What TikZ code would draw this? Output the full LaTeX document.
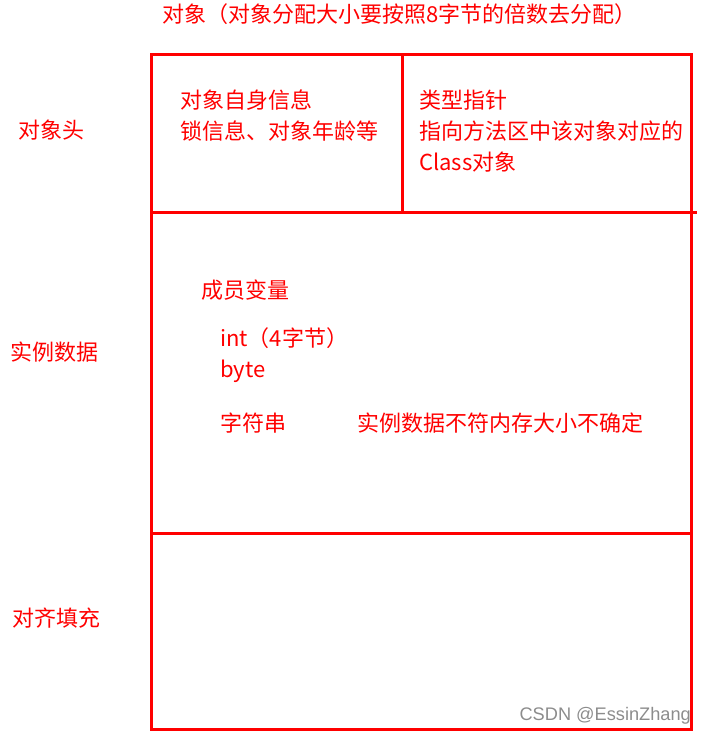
\documentclass[tikz,border=0pt]{standalone}
\usepackage{fontspec}
\setmainfont{Noto Sans CJK SC}
\newfontfamily\markfont{Liberation Sans}
\usepackage{tikz}

\begin{document}
\begin{tikzpicture}[x=1pt, y=-1pt, every node/.style={text=red, font=\fontsize{22}{31}\selectfont, inner sep=0pt, anchor=west},
    frame/.style={draw=red, line width=3pt},
    watermark/.style={text=black!45, font=\markfont\fontsize{18.2}{20}\selectfont}]

    \useasboundingbox (0,0) rectangle (707,735);

    % outer box and its divisions
    \draw[frame] (151,55) rectangle (691,729);
    \draw[frame] (151,213) -- (697,213);
    \draw[frame] (402,55) -- (402,213);
    \draw[frame] (151,533) -- (691,533);

    \node (title) at (162,14) {对象（对象分配大小要按照8字节的倍数去分配）};

    % row labels
    \node (head) at (18,130) {对象头};
    \node (data) at (10,352) {实例数据};
    \node (pad) at (12,618) {对齐填充};

    % header cells
    \node[align=left, anchor=north west] (mark) at (180,90) {对象自身信息\\锁信息、对象年龄等};
    \node[align=left, anchor=north west] (klass) at (419,90) {类型指针\\指向方法区中该对象对应的\\Class对象};

    % instance data
    \node (fields) at (201,290) {成员变量};
    \node[align=left, anchor=north west] (prims) at (220,327) {int（4字节）\\byte};
    \node (str) at (220,423) {字符串};
    \node (note) at (357,423) {实例数据不符内存大小不确定};

    \node[watermark, anchor=east] (csdn) at (691,716) {CSDN @EssinZhang};
\end{tikzpicture}
\end{document}
